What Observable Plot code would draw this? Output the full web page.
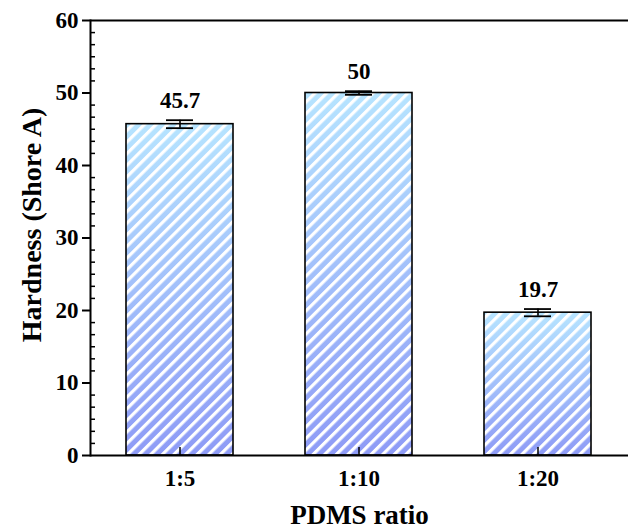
<!DOCTYPE html>
<html><head><meta charset="utf-8">
<script src="https://cdn.jsdelivr.net/npm/d3@7"></script>
<script src="https://cdn.jsdelivr.net/npm/@observablehq/plot@0.6"></script>
<style>body{margin:0;background:#fff}</style>
</head><body><div id="chart"></div>
<script>
const ratios = ["1:5", "1:10", "1:20"];
const hardness = [45.7, 50, 19.7];
const errors = [0.55, 0.25, 0.5];
const yMajorTicks = [0, 10, 20, 30, 40, 50, 60];
const yMinorTicks = d3.range(0, 60.001, 10 / 6).filter(v => Math.abs(v / 10 - Math.round(v / 10)) > 1e-6);

const data = ratios.map((r, i) => ({ratio: r, hardness: hardness[i], err: errors[i]}));

const defs = () => {
  const g = d3.create("svg:g");
  g.html(`<defs>
    <linearGradient id="grad" x1="0" y1="0" x2="0" y2="1">
      <stop offset="0" stop-color="#b6e4ff"/>
      <stop offset="1" stop-color="#8e9bf6"/>
    </linearGradient>
    <pattern id="stripes" patternUnits="userSpaceOnUse" width="8.2" height="8.2" patternTransform="rotate(45)">
      <rect x="0" y="0" width="3.2" height="8.2" fill="#ffffff"/>
    </pattern>
  </defs>`);
  return g.node();
};

const chart = Plot.plot({
  width: 628,
  height: 531,
  marginTop: 20,
  marginBottom: 76,
  marginLeft: 90,
  marginRight: 0,
  style: {fontFamily: "'Liberation Serif', 'Times New Roman', serif", fontWeight: "bold", fontSize: "22px", color: "#000", background: "#fff"},
  x: {type: "band", domain: ratios, paddingInner: 0.4, paddingOuter: 0.2},
  y: {domain: [0, 60]},
  marks: [
    defs,
    Plot.barY(data, {x: "ratio", y: "hardness", fill: "url(#grad)"}),
    Plot.barY(data, {x: "ratio", y: "hardness", fill: "url(#stripes)"}),
    Plot.barY(data, {x: "ratio", y: "hardness", fill: "none", stroke: "#000", strokeWidth: 1.6}),
    Plot.ruleX(data, {x: "ratio", y1: d => d.hardness - d.err, y2: d => d.hardness + d.err, stroke: "#000", strokeWidth: 1.6}),
    Plot.tickY(data, {x: "ratio", y: d => d.hardness + d.err, insetLeft: 40, insetRight: 40, stroke: "#000", strokeWidth: 1.8}),
    Plot.tickY(data, {x: "ratio", y: d => d.hardness - d.err, insetLeft: 40, insetRight: 40, stroke: "#000", strokeWidth: 1.8}),
    Plot.text(data, {x: "ratio", y: d => d.hardness + d.err, text: d => String(d.hardness), dy: -12, lineAnchor: "bottom", fontSize: 23, fontWeight: "bold", fill: "#000"}),
    Plot.axisY({ticks: yMajorTicks, tickSize: 8, tickPadding: 4, fontSize: 23, fontWeight: "bold", label: null, strokeWidth: 2}),
    Plot.axisY({ticks: yMinorTicks, tickSize: -5, text: null, label: null, strokeWidth: 1.5}),
    Plot.axisX({tickSize: -8, text: null, label: null, strokeWidth: 1.5}),
    Plot.axisX({tickSize: 0, tickPadding: 14, fontSize: 23, fontWeight: "bold", label: null}),
    Plot.ruleY([0, 60], {stroke: "#000", strokeWidth: 2}),
    Plot.frame({anchor: "left", stroke: "#000", strokeWidth: 2}),
    Plot.text(["Hardness (Shore A)"], {frameAnchor: "left", rotate: -90, dx: -58, dy: -13, fontSize: 28, fontWeight: "bold", lineAnchor: "middle", textAnchor: "middle", fill: "#000"}),
    Plot.text(["PDMS ratio"], {frameAnchor: "bottom", dy: 68, fontSize: 27, fontWeight: "bold", lineAnchor: "bottom", textAnchor: "middle", fill: "#000"})
  ]
});
document.getElementById("chart").appendChild(chart);
</script>
</body></html>
